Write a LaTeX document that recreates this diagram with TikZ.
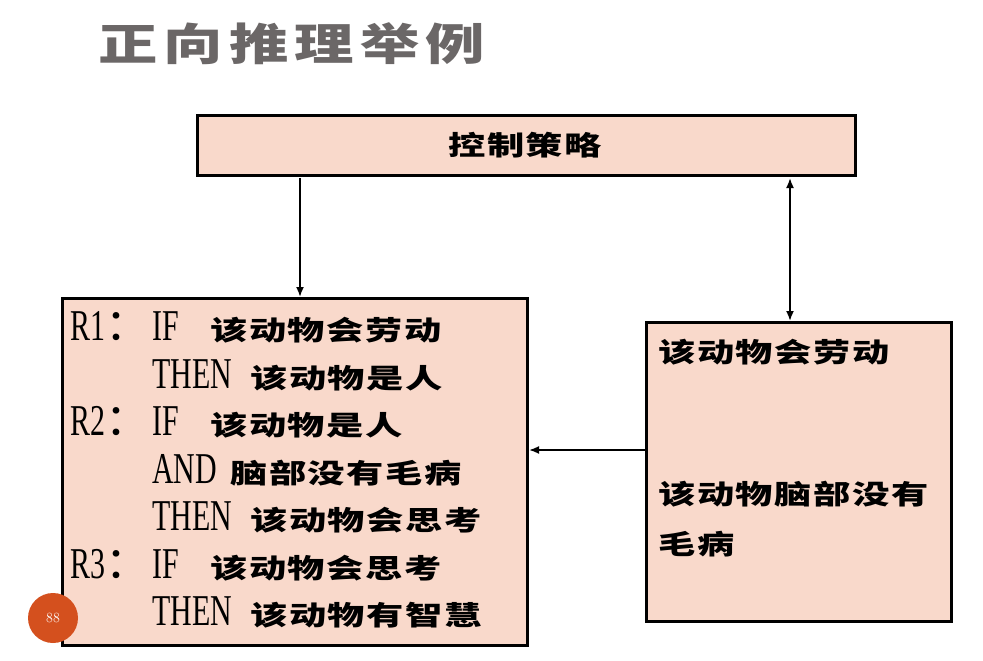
\documentclass[tikz,border=0pt]{standalone}
\usepackage{fontspec}
\usetikzlibrary{arrows.meta}
\newfontfamily\cjk[FakeStretch=1.38,LetterSpace=6]{Noto Sans CJK SC}
\newfontfamily\cjkt[FakeStretch=1.35,LetterSpace=14]{Noto Sans CJK SC}
\newfontfamily\cjkn{Noto Sans CJK SC}
\newfontfamily\lat[FakeStretch=0.68]{Liberation Serif}
\definecolor{boxfill}{HTML}{F9D9CB}
\definecolor{titlegray}{HTML}{6B6767}
\definecolor{pagered}{HTML}{D4501E}
\tikzset{
  box/.style={draw=black, line width=3pt, fill=boxfill, inner sep=0pt},
  zh/.style={font=\cjk\bfseries\fontsize{27}{27}\selectfont, inner sep=0pt, anchor=base west},
  en/.style={font=\lat\fontsize{44}{44}\selectfont, inner sep=0pt, anchor=base west},
  mytip/.tip={Latex[length=10pt,width=8pt]},
  conn/.style={line width=1.8pt, -mytip},
}
\begin{document}
\begin{tikzpicture}[x=1pt,y=-1pt]
\fill[white] (0,0) rectangle (983,661);
\useasboundingbox (0,0) rectangle (983,661);
% title
\node[font=\cjkt\bfseries\fontsize{44}{44}\selectfont, text=titlegray, inner sep=0pt, anchor=base west] (title) at (98,60) {正向推理举例};
% boxes
\node[box, anchor=north west, minimum width=658pt, minimum height=60pt] (ctrl) at (196,114) {};
\node[zh, anchor=base west] (ctrltxt) at (448,155) {控制策略};
\node[box, anchor=north west, minimum width=465pt, minimum height=347pt] (lbox) at (61,297) {};
\node[box, anchor=north west, minimum width=305pt, minimum height=299pt] (rbox) at (645,321) {};
% rules
\node[en] (r1) at (70,340) {R1{\cjkn ：}};
\node[en] (if1) at (152,340) {IF};
\node[zh] (c1) at (210,340) {该动物会劳动};
\node[en] (th1) at (152,388) {THEN};
\node[zh] (c2) at (250,388) {该动物是人};
\node[en] (r2) at (70,435) {R2{\cjkn ：}};
\node[en] (if2) at (152,435) {IF};
\node[zh] (c3) at (210,435) {该动物是人};
\node[en] (and2) at (152,483) {AND};
\node[zh] (c4) at (230,483) {脑部没有毛病};
\node[en] (th2) at (152,530) {THEN};
\node[zh] (c5) at (250,530) {该动物会思考};
\node[en] (r3) at (70,578) {R3{\cjkn ：}};
\node[en] (if3) at (152,578) {IF};
\node[zh] (c6) at (210,578) {该动物会思考};
\node[en] (th3) at (152,625) {THEN};
\node[zh] (c7) at (250,625) {该动物有智慧};
% facts
\node[zh] (f1) at (658,362) {该动物会劳动};
\node[zh] (f2) at (658,504) {该动物脑部没有};
\node[zh] (f3) at (658,554) {毛病};
% connectors
\coordinate (a1) at (300,178);
\draw[conn] (a1) -- (a1 |- lbox.north);
\coordinate (a2) at (790,178);
\draw[line width=1.8pt, mytip-mytip] (a2) -- (a2 |- rbox.north);
\coordinate (a3) at (645,450);
\draw[conn] (a3 -| rbox.west) -- (a3 -| lbox.east);
% page number
\node[circle, fill=pagered, minimum size=50pt, inner sep=0pt, text=white, font=\fontsize{14}{14}\selectfont] (page) at (53,618) {88};
\end{tikzpicture}
\end{document}
